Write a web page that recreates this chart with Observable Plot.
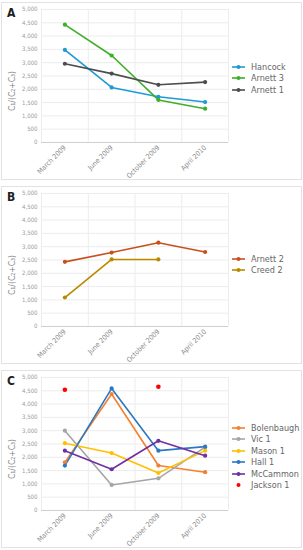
<!DOCTYPE html>
<html>
<head>
<meta charset="utf-8">
<script src="https://cdn.jsdelivr.net/npm/d3@7"></script>
<script src="https://cdn.jsdelivr.net/npm/@observablehq/plot@0.6"></script>
<style>
  html, body { margin: 0; padding: 0; background: #fff; }
  body { width: 303px; height: 550px; position: relative; overflow: hidden;
         font-family: "Liberation Sans Narrow", "DejaVu Sans Condensed", "Roboto Condensed", "Liberation Sans", sans-serif; }
  .panel { position: absolute; left: 1px; width: 299px; height: 176px; border: 1px solid #e2e2e2; background: #fff; }
  .panel svg.plot { position: absolute; left: 0; top: 0; }
  .letter { position: absolute; left: 5px; top: 3px; font-weight: bold; font-size: 12px; color: #222; }
  .ylabel { position: absolute; left: 10px; width: 0; height: 0; }
  .ylabel span { position: absolute; transform: translate(-50%, -50%) rotate(-90deg); white-space: nowrap; font-size: 8.5px; color: #888; }
  .legend { position: absolute; left: 230px; }
  .legend .item { height: 11.5px; display: flex; align-items: center; font-size: 9px; color: #666; white-space: nowrap; }
  .legend .item svg { margin-right: 5px; }
</style>
</head>
<body>
<script>
// Categories and ticks
const months = ["March 2009", "June 2009", "October 2009", "April 2010"];
const yTicks = [0, 500, 1000, 1500, 2000, 2500, 3000, 3500, 4000, 4500, 5000];
const yLabel = "C\u2081/(C\u2082+C\u2083)";

// Panel A
const seriesA = ["Hancock", "Arnett 3", "Arnett 1"];
const colorsA = ["#1f9ad6", "#3fae2a", "#4d4d4d"];
const hancock = [3480, 2070, 1720, 1520];
const arnett3 = [4430, 3270, 1600, 1270];
const arnett1 = [2960, 2590, 2170, 2270];

// Panel B
const seriesB = ["Arnett 2", "Creed 2"];
const colorsB = ["#c8501e", "#b88a00"];
const arnett2 = [2430, 2780, 3150, 2800];
const creed2 = [1090, 2520, 2520, null];

// Panel C
const seriesC = ["Bolenbaugh", "Vic 1", "Mason 1", "Hall 1", "McCammon", "Jackson 1"];
const colorsC = ["#f4812f", "#a5a5a5", "#ffc000", "#2a78c4", "#7030a0", "#ff0000"];
const bolenbaugh = [1810, 4380, 1690, 1440];
const vic1 = [3000, 960, 1210, 2380];
const mason1 = [2530, 2160, 1410, 2250];
const hall1 = [1690, 4590, 2250, 2400];
const mccammon = [2250, 1550, 2620, 2060];
const jackson1 = [4540, null, 4650, null];

const panels = [
  {letter: "A", top: 2, legendTop: 58, series: seriesA, colors: colorsA,
   values: [hancock, arnett3, arnett1], dotsOnly: []},
  {letter: "B", top: 186, legendTop: 66, series: seriesB, colors: colorsB,
   values: [arnett2, creed2], dotsOnly: []},
  {letter: "C", top: 370, legendTop: 51, series: seriesC, colors: colorsC,
   values: [bolenbaugh, vic1, mason1, hall1, mccammon, jackson1], dotsOnly: ["Jackson 1"]}
];

const font = '"Liberation Sans Narrow", "DejaVu Sans Condensed", "Roboto Condensed", "Liberation Sans", sans-serif';

for (const p of panels) {
  const div = document.createElement("div");
  div.className = "panel";
  div.style.top = p.top + "px";
  document.body.appendChild(div);

  const rows = [];
  p.series.forEach((s, k) => {
    p.values[k].forEach((v, i) => { if (v != null) rows.push({series: s, i, value: v}); });
  });
  const lineRows = rows.filter(d => !p.dotsOnly.includes(d.series));
  const dotRows = rows.filter(d => !p.dotsOnly.includes(d.series));
  const soloRows = rows.filter(d => p.dotsOnly.includes(d.series));

  const chart = Plot.plot({
    width: 229, height: 176,
    marginLeft: 39, marginRight: 3, marginTop: 6, marginBottom: 37,
    style: {fontFamily: font, background: "transparent", overflow: "visible"},
    x: {domain: [-0.5, months.length - 0.5]},
    y: {domain: [0, 5000]},
    color: {domain: p.series, range: p.colors},
    marks: [
      Plot.ruleY(yTicks.slice(1), {stroke: "#ececec", strokeWidth: 1}),
      Plot.ruleX(d3.range(months.length + 1).map(i => i - 0.5), {stroke: "#ececec", strokeWidth: 1}),
      Plot.ruleY([0], {stroke: "#cfcfcf", strokeWidth: 1}),
      Plot.axisY({ticks: yTicks, tickFormat: d3.format(","), tickSize: 0, tickPadding: 4,
                  label: null, fontSize: 6, fill: "#9a9a9a"}),
      Plot.axisX({ticks: d3.range(months.length), tickFormat: i => months[i], tickRotate: -45,
                  tickSize: 0, tickPadding: 4, label: null, fontSize: 7, fill: "#8a8a8a"}),
      Plot.line(lineRows, {x: "i", y: "value", z: "series", stroke: "series", strokeWidth: 1.6}),
      Plot.dot(dotRows, {x: "i", y: "value", fill: "series", r: 2.1}),
      Plot.dot(soloRows, {x: "i", y: "value", fill: "series", r: 2.3})
    ]
  });
  chart.classList.add("plot");
  div.appendChild(chart);

  const letter = document.createElement("div");
  letter.className = "letter";
  letter.textContent = p.letter;
  div.appendChild(letter);

  const yl = document.createElement("div");
  yl.className = "ylabel";
  yl.style.top = "88px";
  const span = document.createElement("span");
  span.textContent = yLabel;
  yl.appendChild(span);
  div.appendChild(yl);

  const legend = document.createElement("div");
  legend.className = "legend";
  legend.style.top = p.legendTop + "px";
  p.series.forEach((s, k) => {
    const item = document.createElement("div");
    item.className = "item";
    const c = p.colors[k];
    const line = p.dotsOnly.includes(s) ? "" :
      `<line x1="0" x2="13" y1="4" y2="4" stroke="${c}" stroke-width="1.6"/>`;
    item.innerHTML = `<svg width="14" height="8">${line}<circle cx="6.5" cy="4" r="2" fill="${c}"/></svg><span>${s}</span>`;
    legend.appendChild(item);
  });
  div.appendChild(legend);
}
</script>
</body>
</html>
